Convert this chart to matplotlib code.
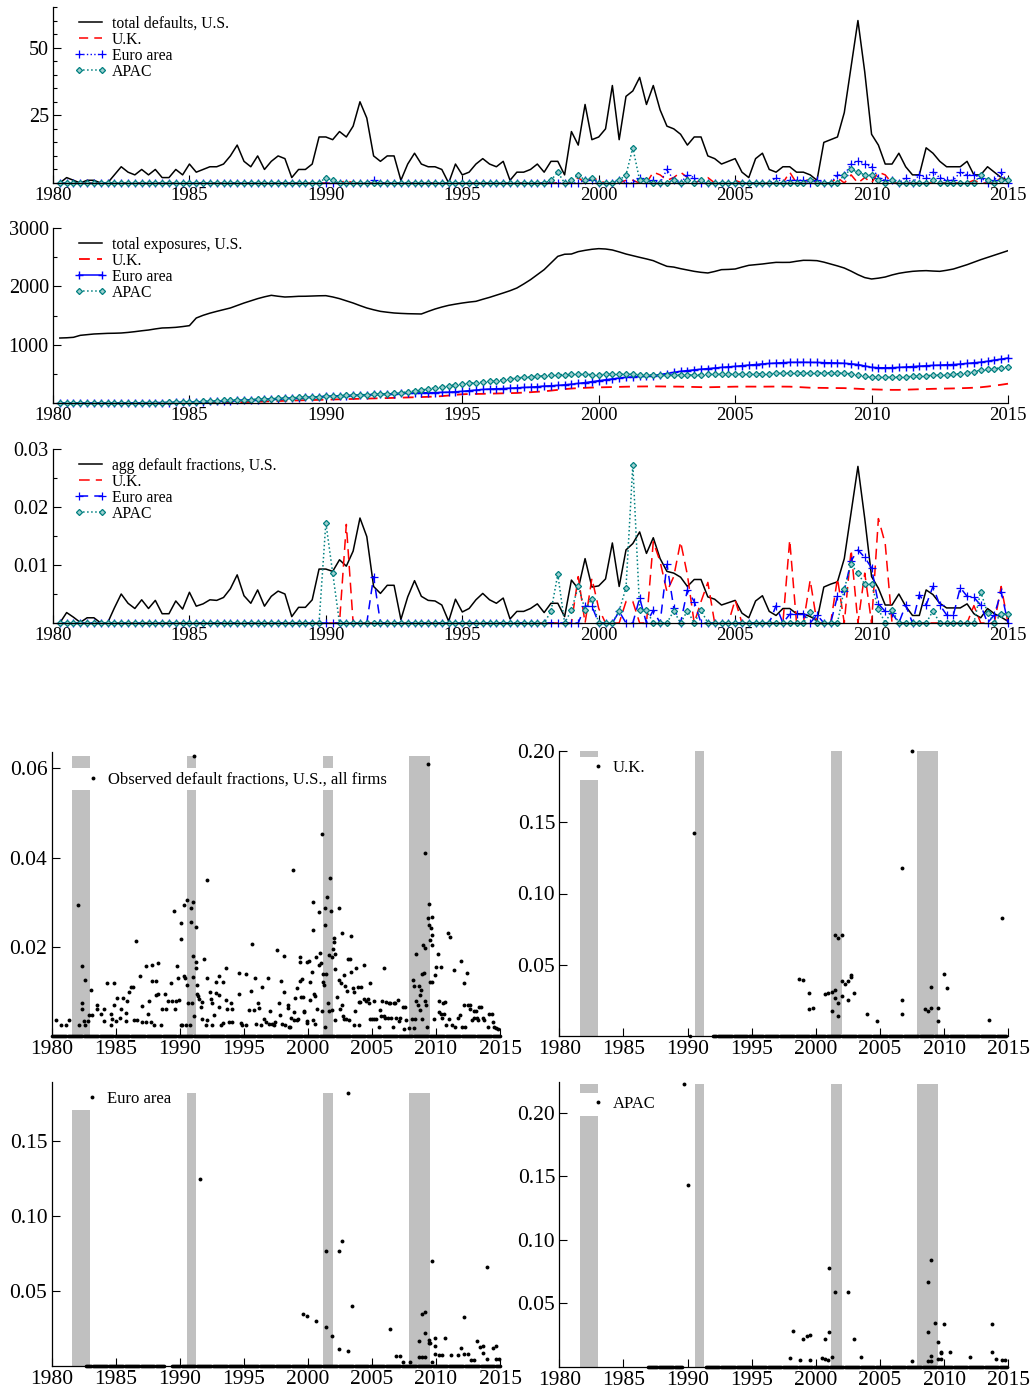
import numpy as np
import matplotlib
matplotlib.use("Agg")
import matplotlib.pyplot as plt
from matplotlib.patches import Rectangle
from matplotlib.ticker import MultipleLocator, FormatStrFormatter

plt.rcParams["font.family"] = ["Liberation Serif", "DejaVu Serif"]

TEAL = "#008080"
N_Q = 140  # 1980Q1 .. 2014Q4

# ---- quarterly aggregates ----
us_defaults = [0, 2, 1, 0, 1, 1, 0, 0, 3, 6, 4, 3, 5, 3, 5, 2, 2, 5, 3, 7,
               4, 5, 6, 6, 7, 10, 14, 8, 6, 10, 5, 8, 10, 9, 2, 5, 5, 7, 17, 17,
               16, 19, 17, 21, 30, 24, 10, 8, 10, 10, 1, 7, 11, 7, 6, 6, 5, 0, 7, 3,
               4, 7, 9, 7, 6, 8, 1, 4, 4, 5, 7, 4, 8, 8, 3, 19, 14, 29, 16, 17,
               20, 36, 16, 32, 34, 39, 29, 36, 27, 21, 20, 18, 14, 17, 17, 10, 9, 7, 8, 9,
               4, 2, 9, 11, 5, 4, 6, 6, 4, 4, 3, 1, 15, 16, 17, 26, 43, 60, 41, 18,
               14, 7, 7, 11, 6, 3, 3, 13, 11, 8, 6, 6, 6, 8, 3, 3, 6, 4, 2, 1]

uk_defaults = {"1990Q3": 1, "1999Q1": 2, "1999Q3": 2, "1999Q4": 1, "2000Q4": 1,
               "2001Q1": 1, "2001Q4": 4, "2002Q1": 3, "2002Q2": 1, "2002Q3": 2,
               "2002Q4": 4, "2003Q1": 2, "2003Q3": 1, "2003Q4": 2, "2004Q4": 1,
               "2006Q4": 4, "2007Q3": 2, "2008Q3": 2, "2009Q1": 3, "2009Q3": 2,
               "2010Q1": 4, "2010Q2": 3, "2013Q3": 1, "2014Q3": 2}

euro_defaults = {"1991Q3": 1, "1999Q2": 1, "1999Q3": 1, "2000Q3": 1, "2001Q2": 2,
                 "2001Q4": 1, "2002Q2": 5, "2002Q3": 1, "2003Q1": 3, "2003Q2": 2,
                 "2006Q2": 2, "2006Q4": 1, "2007Q1": 1, "2007Q2": 1, "2007Q4": 1,
                 "2008Q3": 3, "2008Q4": 3, "2009Q1": 7, "2009Q2": 8, "2009Q3": 7,
                 "2009Q4": 6, "2010Q1": 2, "2010Q2": 1, "2010Q3": 1, "2011Q1": 2,
                 "2011Q3": 3, "2011Q4": 2, "2012Q1": 4, "2012Q2": 2, "2012Q3": 1,
                 "2012Q4": 1, "2013Q1": 4, "2013Q2": 3, "2013Q3": 3, "2013Q4": 2,
                 "2014Q2": 1, "2014Q3": 4}

apac_defaults = {"1989Q4": 2, "1990Q1": 1, "1998Q1": 1, "1998Q2": 4, "1998Q4": 1,
                 "1999Q1": 3, "1999Q2": 1, "1999Q3": 2, "2000Q3": 1, "2000Q4": 3,
                 "2001Q1": 13, "2001Q2": 1, "2001Q3": 1, "2002Q3": 1, "2003Q1": 1,
                 "2003Q3": 1, "2007Q3": 1, "2008Q4": 3, "2009Q1": 5, "2009Q2": 4,
                 "2009Q3": 3, "2009Q4": 3, "2010Q1": 1, "2010Q3": 1, "2012Q1": 1,
                 "2013Q4": 3, "2014Q1": 1, "2014Q3": 1, "2014Q4": 1}

us_exposures = [1114, 1118, 1126, 1160, 1172, 1183, 1188, 1194, 1196, 1200,
                1210, 1223, 1238, 1251, 1270, 1286, 1290, 1297, 1310, 1326,
                1457, 1503, 1540, 1571, 1600, 1629, 1672, 1714, 1752, 1789,
                1820, 1846, 1830, 1817, 1822, 1829, 1830, 1834, 1838, 1840,
                1818, 1789, 1752, 1714, 1670, 1629, 1598, 1571, 1556, 1543,
                1536, 1531, 1528, 1526, 1570, 1611, 1645, 1674, 1695, 1714,
                1730, 1743, 1778, 1811, 1848, 1886, 1925, 1971, 2040, 2114,
                2200, 2286, 2400, 2514, 2550, 2554, 2595, 2617, 2635, 2646,
                2640, 2623, 2590, 2554, 2525, 2497, 2470, 2440, 2390, 2343,
                2330, 2303, 2280, 2257, 2240, 2229, 2255, 2286, 2290, 2297,
                2330, 2360, 2372, 2383, 2398, 2411, 2410, 2411, 2430, 2446,
                2445, 2440, 2415, 2383, 2350, 2314, 2260, 2200, 2150, 2126,
                2140, 2160, 2195, 2223, 2242, 2257, 2265, 2269, 2262, 2257,
                2275, 2297, 2335, 2371, 2415, 2457, 2495, 2531, 2570, 2611]

uk_exposures = [0, 0, 0, 0, 0, 0, 0, 0, 0, 0, 0, 0, 0, 0, 0, 0, 0, 0, 0, 0,
                0, 0, 2, 5, 7, 9, 12, 15, 18, 22, 26, 30, 34, 38, 42, 45, 48, 51, 54, 57,
                60, 63, 67, 70, 72, 75, 78, 80, 84, 88, 92, 95, 98, 102, 106, 110,
                118, 128, 140, 150, 154, 155, 157, 160, 162, 165, 168, 172, 178, 185,
                192, 200, 212, 225, 238, 248, 255, 260, 265, 268, 272, 275, 278, 280,
                282, 283, 284, 285, 284, 282, 281, 280, 277, 274, 272, 270, 272, 275,
                278, 280, 281, 281, 280, 280, 281, 282, 281, 280, 275, 268, 262, 260,
                258, 257, 256, 255, 250, 244, 238, 234, 230, 227, 225, 225, 228, 232,
                236, 240, 243, 245, 247, 250, 253, 257, 262, 270, 282, 297, 313, 331]

euro_exposures = [0, 0, 0, 0, 0, 0, 0, 0, 1, 1, 2, 2, 3, 4, 5, 6, 8, 10, 12, 15,
                  18, 22, 26, 30, 35, 40, 45, 50, 55, 60, 65, 70, 75, 80, 85, 90,
                  96, 102, 108, 114, 120, 124, 128, 132, 137, 141, 146, 150,
                  155, 160, 165, 170, 172, 174, 176, 178, 182, 186, 192, 200,
                  212, 222, 232, 240, 244, 248, 254, 260, 266, 272, 280, 290,
                  296, 302, 312, 322, 336, 350, 366, 383, 398, 412, 428, 440,
                  448, 456, 463, 470, 488, 505, 525, 543, 556, 568, 580, 590,
                  600, 610, 620, 628, 640, 650, 660, 670, 678, 685, 692, 697,
                  698, 698, 697, 695, 692, 690, 686, 680, 672, 660, 635, 611,
                  605, 604, 606, 610, 618, 625, 632, 640, 645, 650, 655, 660,
                  668, 678, 690, 700, 715, 735, 752, 771]

apac_exposures = [0, 0, 0, 0, 0, 0, 0, 0, 1, 1, 2, 3, 4, 5, 6, 8, 10, 13, 16, 20,
                  24, 29, 34, 40, 44, 47, 51, 55, 60, 65, 70, 75, 80, 85, 90, 95,
                  100, 105, 110, 115, 120, 125, 130, 135, 140, 145, 150, 155,
                  162, 170, 180, 190, 205, 222, 240, 260, 278, 295, 310, 326,
                  338, 348, 358, 370, 385, 400, 415, 430, 440, 450, 460, 470,
                  478, 486, 488, 490, 490, 489, 488, 488, 490, 492, 493, 495,
                  490, 486, 483, 480, 478, 478, 479, 480, 482, 484, 487, 490,
                  491, 492, 494, 495, 496, 497, 499, 500, 503, 506, 510, 514,
                  516, 518, 519, 520, 520, 518, 515, 510, 500, 480, 460, 440,
                  438, 440, 442, 445, 450, 456, 463, 470, 474, 478, 484, 490,
                  505, 522, 540, 560, 575, 590, 605, 617]

us_fraction = [0, 0.0018, 0.0010, 0.0001, 0.0009, 0.0009, 0, 0, 0.0026, 0.0050,
               0.0034, 0.0025, 0.0040, 0.0025, 0.0039, 0.0016, 0.0016, 0.0038, 0.0024, 0.0053,
               0.0029, 0.0033, 0.0040, 0.0039, 0.0044, 0.0059, 0.0083, 0.0047, 0.0034, 0.0057,
               0.0029, 0.0046, 0.0055, 0.0050, 0.0011, 0.0027, 0.0027, 0.0040, 0.0093, 0.0093,
               0.0089, 0.0109, 0.0098, 0.0124, 0.0181, 0.0149, 0.0063, 0.0051, 0.0065, 0.0065,
               0.0006, 0.0045, 0.0073, 0.0046, 0.0039, 0.0038, 0.0031, 0.0003, 0.0041, 0.0019,
               0.0025, 0.0040, 0.0051, 0.0040, 0.0034, 0.0043, 0.0007, 0.0020, 0.0020, 0.0025,
               0.0033, 0.0018, 0.0034, 0.0034, 0.0011, 0.0074, 0.0059, 0.0111, 0.0062, 0.0064,
               0.0076, 0.0138, 0.0063, 0.0126, 0.0137, 0.0157, 0.0120, 0.0147, 0.0111, 0.0089,
               0.0086, 0.0079, 0.0063, 0.0075, 0.0075, 0.0045, 0.0041, 0.0031, 0.0035, 0.0039,
               0.0017, 0.0009, 0.0038, 0.0047, 0.0020, 0.0013, 0.0025, 0.0025, 0.0016, 0.0016,
               0.0011, 0.0005, 0.0062, 0.0067, 0.0071, 0.0111, 0.0191, 0.0270, 0.0180, 0.0080,
               0.0060, 0.0031, 0.0031, 0.0050, 0.0029, 0.0013, 0.0013, 0.0057, 0.0049, 0.0034,
               0.0026, 0.0026, 0.0026, 0.0033, 0.0016, 0.0009, 0.0025, 0.0016, 0.0010, 0.0003]

uk_fraction = {"1990Q3": 0.0170, "1999Q1": 0.0080, "1999Q3": 0.0077, "1999Q4": 0.0025,
               "2000Q4": 0.0037, "2001Q1": 0.0037, "2001Q4": 0.0140, "2002Q1": 0.0106,
               "2002Q2": 0.0054, "2002Q3": 0.0080, "2002Q4": 0.0140, "2003Q1": 0.0083,
               "2003Q3": 0.0037, "2003Q4": 0.0070, "2004Q4": 0.0040, "2006Q4": 0.0143,
               "2007Q3": 0.0074, "2008Q3": 0.0077, "2009Q1": 0.0126, "2009Q3": 0.0086,
               "2010Q1": 0.0180, "2010Q2": 0.0137, "2013Q3": 0.0030, "2014Q3": 0.0063}

euro_fraction = {"1991Q3": 0.0080, "1999Q2": 0.0029, "1999Q3": 0.0029, "2000Q3": 0.0020,
                 "2001Q2": 0.0043, "2001Q4": 0.0022, "2002Q2": 0.0101, "2002Q3": 0.0026,
                 "2003Q1": 0.0057, "2003Q2": 0.0037, "2006Q2": 0.0030, "2006Q4": 0.0015,
                 "2007Q1": 0.0015, "2007Q2": 0.0015, "2007Q4": 0.0014, "2008Q3": 0.0046,
                 "2008Q4": 0.0056, "2009Q1": 0.0107, "2009Q2": 0.0126, "2009Q3": 0.0113,
                 "2009Q4": 0.0095, "2010Q1": 0.0033, "2010Q2": 0.0020, "2010Q3": 0.0017,
                 "2011Q1": 0.0031, "2011Q3": 0.0049, "2011Q4": 0.0031, "2012Q1": 0.0063,
                 "2012Q2": 0.0031, "2012Q3": 0.0014, "2012Q4": 0.0014, "2013Q1": 0.0061,
                 "2013Q2": 0.0046, "2013Q3": 0.0044, "2013Q4": 0.0031, "2014Q2": 0.0014,
                 "2014Q3": 0.0054}

apac_fraction = {"1989Q4": 0.0173, "1990Q1": 0.0087, "1998Q1": 0.0020, "1998Q2": 0.0084,
                 "1998Q4": 0.0022, "1999Q1": 0.0063, "1999Q2": 0.0023, "1999Q3": 0.0042,
                 "2000Q3": 0.0021, "2000Q4": 0.0061, "2001Q1": 0.0273, "2001Q2": 0.0023,
                 "2001Q3": 0.0022, "2002Q3": 0.0021, "2003Q1": 0.0021, "2003Q3": 0.0022,
                 "2007Q3": 0.0019, "2008Q4": 0.0059, "2009Q1": 0.0101, "2009Q2": 0.0086,
                 "2009Q3": 0.0067, "2009Q4": 0.0067, "2010Q1": 0.0024, "2010Q3": 0.0023,
                 "2012Q1": 0.0021, "2013Q4": 0.0054, "2014Q1": 0.0017, "2014Q3": 0.0016,
                 "2014Q4": 0.0016}

# ---- NBER recessions (decimal years) ----
rec_start = [1981.6, 1990.6, 2001.2, 2007.9]
rec_end = [1983.0, 1991.3, 2002.0, 2009.5]

# ---- observed default fractions: (decimal year, fraction), zero months as spans ----
us_obs = [
    (1980.34, 0.0035), (1980.73, 0.0025), (1981.12, 0.0025), (1981.38, 0.0035),
    (1982.10, 0.0294), (1982.16, 0.0024), (1982.36, 0.0156), (1982.36, 0.0073),
    (1982.40, 0.0061), (1982.62, 0.0125), (1982.55, 0.0034), (1982.81, 0.0034),
    (1982.62, 0.0024), (1983.12, 0.0103), (1982.94, 0.0048), (1983.19, 0.0048),
    (1983.58, 0.0061), (1983.58, 0.0070), (1983.84, 0.0049), (1984.10, 0.0061),
    (1984.10, 0.0034), (1984.36, 0.0119), (1984.62, 0.0049), (1984.62, 0.0024),
    (1984.75, 0.0039), (1984.88, 0.0119), (1984.88, 0.0070), (1985.01, 0.0033),
    (1985.14, 0.0086), (1985.32, 0.0040), (1985.40, 0.0061), (1985.58, 0.0086),
    (1985.79, 0.0052), (1985.79, 0.0034), (1985.92, 0.0078), (1986.05, 0.0099),
    (1986.18, 0.0110), (1986.36, 0.0110), (1986.57, 0.0213), (1986.44, 0.0037),
    (1986.70, 0.0035), (1986.88, 0.0134), (1987.09, 0.0067), (1987.09, 0.0031),
    (1987.35, 0.0157), (1987.35, 0.0031), (1987.56, 0.0049), (1987.61, 0.0078),
    (1987.74, 0.0031), (1987.87, 0.0159), (1987.87, 0.0124), (1988.00, 0.0025),
    (1988.13, 0.0124), (1988.13, 0.0091), (1988.34, 0.0163), (1988.34, 0.0095),
    (1988.52, 0.0025), (1988.65, 0.0060), (1988.86, 0.0095), (1988.91, 0.0061),
    (1989.12, 0.0078), (1989.30, 0.0119), (1989.38, 0.0078), (1989.56, 0.0280),
    (1989.64, 0.0061), (1989.69, 0.0078), (1989.82, 0.0156), (1989.90, 0.0129),
    (1989.95, 0.0080), (1990.08, 0.0254), (1990.08, 0.0217), (1990.08, 0.0024),
    (1990.21, 0.0025), (1990.34, 0.0294), (1990.34, 0.0134), (1990.42, 0.0129),
    (1990.47, 0.0025), (1990.60, 0.0306), (1990.60, 0.0114), (1990.68, 0.0074),
    (1990.78, 0.0025), (1990.86, 0.0286), (1990.86, 0.0256), (1990.94, 0.0074),
    (1991.06, 0.0300), (1991.06, 0.0179), (1991.06, 0.0133), (1991.12, 0.0629),
    (1991.12, 0.0045), (1991.25, 0.0153), (1991.30, 0.0245), (1991.30, 0.0166),
    (1991.38, 0.0114), (1991.38, 0.0095), (1991.45, 0.0090), (1991.51, 0.0084),
    (1991.64, 0.0065), (1991.71, 0.0076), (1991.77, 0.0039), (1991.90, 0.0172),
    (1992.03, 0.0024), (1992.16, 0.0351), (1992.16, 0.0129), (1992.16, 0.0037),
    (1992.34, 0.0099), (1992.42, 0.0084), (1992.49, 0.0073), (1992.55, 0.0025),
    (1992.68, 0.0046), (1992.81, 0.0120), (1992.86, 0.0097), (1993.06, 0.0135),
    (1993.06, 0.0091), (1993.06, 0.0065), (1993.19, 0.0025), (1993.38, 0.0120),
    (1993.38, 0.0030), (1993.58, 0.0153), (1993.58, 0.0080), (1993.71, 0.0061),
    (1993.84, 0.0031), (1993.97, 0.0073), (1994.05, 0.0061), (1994.10, 0.0031),
    (1994.62, 0.0142), (1994.62, 0.0095), (1994.75, 0.0030), (1994.88, 0.0025),
    (1995.14, 0.0138), (1995.14, 0.0025), (1995.45, 0.0058), (1995.53, 0.0100),
    (1995.66, 0.0207), (1995.79, 0.0058), (1995.87, 0.0129), (1995.97, 0.0028),
    (1996.13, 0.0074), (1996.18, 0.0063), (1996.31, 0.0025), (1996.44, 0.0110),
    (1996.57, 0.0039), (1996.75, 0.0031), (1996.91, 0.0129), (1997.01, 0.0028),
    (1997.09, 0.0055), (1997.22, 0.0028), (1997.35, 0.0024), (1997.48, 0.0031),
    (1997.61, 0.0192), (1997.74, 0.0073), (1997.87, 0.0048), (1997.92, 0.0123),
    (1998.00, 0.0028), (1998.13, 0.0179), (1998.13, 0.0099), (1998.26, 0.0024),
    (1998.44, 0.0070), (1998.44, 0.0063), (1998.52, 0.0020), (1998.65, 0.0020),
    (1998.70, 0.0040), (1998.86, 0.0372), (1998.91, 0.0054), (1998.91, 0.0035),
    (1999.04, 0.0086), (1999.12, 0.0108), (1999.17, 0.0035), (1999.22, 0.0039),
    (1999.38, 0.0177), (1999.38, 0.0165), (1999.43, 0.0123), (1999.48, 0.0088),
    (1999.56, 0.0127), (1999.64, 0.0088), (1999.69, 0.0055), (1999.74, 0.0054),
    (1999.90, 0.0165), (1999.90, 0.0029), (1999.95, 0.0033), (2000.08, 0.0168),
    (2000.16, 0.0120), (2000.21, 0.0081), (2000.34, 0.0144), (2000.42, 0.0301),
    (2000.42, 0.0237), (2000.42, 0.0037), (2000.47, 0.0095), (2000.60, 0.0090),
    (2000.60, 0.0028), (2000.68, 0.0177), (2000.73, 0.0060), (2000.86, 0.0160),
    (2000.91, 0.0279), (2000.94, 0.0186), (2001.04, 0.0163), (2001.12, 0.0452),
    (2001.12, 0.0055), (2001.19, 0.0140), (2001.19, 0.0120), (2001.25, 0.0114),
    (2001.32, 0.0020), (2001.38, 0.0288), (2001.38, 0.0249), (2001.45, 0.0140),
    (2001.51, 0.0312), (2001.56, 0.0073), (2001.64, 0.0181), (2001.64, 0.0055),
    (2001.77, 0.0355), (2001.82, 0.0280), (2001.90, 0.0178), (2001.90, 0.0058),
    (2001.97, 0.0195), (2002.03, 0.0219), (2002.08, 0.0211), (2002.16, 0.0183),
    (2002.16, 0.0150), (2002.16, 0.0037), (2002.29, 0.0088), (2002.42, 0.0286),
    (2002.42, 0.0125), (2002.49, 0.0061), (2002.60, 0.0118), (2002.68, 0.0230),
    (2002.68, 0.0070), (2002.75, 0.0045), (2002.81, 0.0039), (2002.86, 0.0136),
    (2002.94, 0.0112), (2003.01, 0.0039), (2003.06, 0.0100), (2003.12, 0.0172),
    (2003.19, 0.0035), (2003.27, 0.0172), (2003.38, 0.0225), (2003.40, 0.0144),
    (2003.53, 0.0108), (2003.58, 0.0025), (2003.64, 0.0099), (2003.71, 0.0055),
    (2003.79, 0.0153), (2003.90, 0.0110), (2003.97, 0.0076), (2003.97, 0.0025),
    (2004.10, 0.0076), (2004.16, 0.0110), (2004.36, 0.0084), (2004.42, 0.0160),
    (2004.57, 0.0078), (2004.68, 0.0084), (2004.75, 0.0073), (2004.83, 0.0039),
    (2004.88, 0.0118), (2005.01, 0.0039), (2005.14, 0.0078), (2005.19, 0.0039),
    (2005.35, 0.0039), (2005.53, 0.0020), (2005.66, 0.0058), (2005.71, 0.0045),
    (2005.79, 0.0078), (2005.92, 0.0153), (2005.97, 0.0045), (2006.05, 0.0040),
    (2006.13, 0.0076), (2006.23, 0.0040), (2006.31, 0.0075), (2006.44, 0.0075),
    (2006.49, 0.0040), (2006.65, 0.0020), (2006.70, 0.0075), (2006.83, 0.0075),
    (2006.91, 0.0040), (2007.01, 0.0080), (2007.09, 0.0033), (2007.22, 0.0040),
    (2007.43, 0.0065), (2007.48, 0.0016), (2007.61, 0.0065), (2007.69, 0.0035),
    (2007.87, 0.0018), (2008.13, 0.0039), (2008.21, 0.0125), (2008.26, 0.0112),
    (2008.31, 0.0018), (2008.39, 0.0039), (2008.42, 0.0183), (2008.47, 0.0078),
    (2008.57, 0.0069), (2008.65, 0.0112), (2008.73, 0.0093), (2008.73, 0.0058),
    (2008.83, 0.0103), (2008.91, 0.0140), (2008.91, 0.0039), (2008.99, 0.0205),
    (2009.09, 0.0142), (2009.17, 0.0410), (2009.17, 0.0198), (2009.17, 0.0078),
    (2009.25, 0.0069), (2009.30, 0.0020), (2009.35, 0.0265), (2009.38, 0.0610),
    (2009.43, 0.0297), (2009.43, 0.0249), (2009.51, 0.0215), (2009.51, 0.0121),
    (2009.61, 0.0243), (2009.69, 0.0267), (2009.69, 0.0226), (2009.69, 0.0204),
    (2009.69, 0.0120), (2009.82, 0.0039), (2009.95, 0.0136), (2010.00, 0.0155),
    (2010.13, 0.0185), (2010.21, 0.0078), (2010.26, 0.0054), (2010.39, 0.0050),
    (2010.39, 0.0155), (2010.47, 0.0040), (2010.55, 0.0075), (2010.60, 0.0050),
    (2010.73, 0.0076), (2010.81, 0.0024), (2010.91, 0.0232), (2010.99, 0.0039),
    (2011.12, 0.0222), (2011.25, 0.0025), (2011.38, 0.0148), (2011.51, 0.0020),
    (2011.69, 0.0040), (2011.84, 0.0046), (2011.95, 0.0168), (2012.03, 0.0020),
    (2012.16, 0.0118), (2012.21, 0.0070), (2012.29, 0.0020), (2012.42, 0.0142),
    (2012.47, 0.0070), (2012.62, 0.0070), (2012.68, 0.0061), (2012.81, 0.0035),
    (2012.94, 0.0055), (2012.99, 0.0040), (2013.14, 0.0055), (2013.19, 0.0040),
    (2013.32, 0.0035), (2013.40, 0.0065), (2013.51, 0.0065), (2013.66, 0.0040),
    (2013.77, 0.0035), (2014.10, 0.0020), (2014.18, 0.0050), (2014.36, 0.0050),
    (2014.44, 0.0031), (2014.55, 0.0020), (2014.70, 0.0018), (2014.88, 0.0016),
]
us_zero_spans = [(1980.0, 2015.0)]

uk_obs = [
    (1990.49, 0.1426), (1998.70, 0.0398), (1998.96, 0.0391), (1999.48, 0.0302),
    (1999.48, 0.0190), (1999.74, 0.0197), (2000.70, 0.0293), (2000.96, 0.0302),
    (2001.22, 0.0309), (2001.22, 0.0176), (2001.48, 0.0321), (2001.48, 0.0712),
    (2001.48, 0.0269), (2001.74, 0.0689), (2001.74, 0.0232), (2001.74, 0.0143),
    (2002.00, 0.0712), (2002.00, 0.0384), (2002.00, 0.0283), (2002.26, 0.0368),
    (2002.47, 0.0384), (2002.47, 0.0251), (2002.73, 0.0426), (2002.73, 0.0415),
    (2002.99, 0.0304), (2004.00, 0.0157), (2004.73, 0.0103), (2006.75, 0.1176),
    (2006.75, 0.0255), (2006.75, 0.0157), (2007.51, 0.2000), (2008.49, 0.0190),
    (2008.75, 0.0176), (2009.01, 0.0344), (2009.01, 0.0197), (2009.51, 0.0197),
    (2009.51, 0.0103), (2010.00, 0.0433), (2010.26, 0.0340), (2013.51, 0.0110),
    (2014.52, 0.0831),
]
uk_zero_spans = [(1990.17, 1990.2), (1992.0, 2014.9)]

euro_obs = [
    (1991.58, 0.1247), (1999.64, 0.0344), (1999.90, 0.0333), (2000.68, 0.0300),
    (2001.43, 0.0767), (2001.43, 0.0260), (2001.90, 0.0198), (2002.42, 0.0767),
    (2002.42, 0.0116), (2002.68, 0.0833), (2003.17, 0.1818), (2003.17, 0.0102),
    (2003.43, 0.0400), (2006.44, 0.0247), (2006.91, 0.0069), (2007.17, 0.0069),
    (2007.43, 0.0029), (2007.95, 0.0029), (2008.68, 0.0169), (2008.68, 0.0058),
    (2008.91, 0.0344), (2008.91, 0.0058), (2009.17, 0.0358), (2009.17, 0.0222),
    (2009.17, 0.0058), (2009.43, 0.0173), (2009.43, 0.0153), (2009.56, 0.0156),
    (2009.69, 0.0700), (2009.69, 0.0029), (2009.95, 0.0189), (2009.95, 0.0133),
    (2009.95, 0.0078), (2010.21, 0.0073), (2010.47, 0.0073), (2010.68, 0.0189),
    (2011.17, 0.0073), (2011.69, 0.0073), (2011.95, 0.0122), (2012.21, 0.0324),
    (2012.21, 0.0078), (2012.47, 0.0078), (2012.70, 0.0040), (2012.96, 0.0040),
    (2013.19, 0.0167), (2013.45, 0.0129), (2013.71, 0.0136), (2013.71, 0.0084),
    (2013.97, 0.0662), (2013.97, 0.0044), (2014.47, 0.0122), (2014.70, 0.0136),
    (2014.70, 0.0044), (2014.96, 0.0044),
]
euro_zero_spans = [(1982.7, 1988.8), (1989.4, 2015.0)]

apac_obs = [
    (1989.71, 0.2226), (1990.00, 0.1432), (1997.97, 0.0074), (1998.23, 0.0284),
    (1998.75, 0.0055), (1999.01, 0.0218), (1999.27, 0.0245), (1999.53, 0.0250),
    (1999.53, 0.0055), (2000.49, 0.0074), (2000.75, 0.0218), (2000.75, 0.0063),
    (2000.96, 0.0055), (2001.01, 0.0779), (2001.01, 0.0274), (2001.22, 0.0082),
    (2001.48, 0.0592), (2002.49, 0.0592), (2003.01, 0.0221), (2003.51, 0.0079),
    (2007.51, 0.0050), (2008.75, 0.0671), (2008.75, 0.0274), (2008.75, 0.0050),
    (2009.01, 0.0840), (2009.01, 0.0087), (2009.01, 0.0050), (2009.25, 0.0345),
    (2009.51, 0.0200), (2009.51, 0.0061), (2009.77, 0.0121), (2009.77, 0.0108),
    (2009.77, 0.0061), (2010.00, 0.0337), (2010.49, 0.0121), (2012.00, 0.0079),
    (2013.74, 0.0337), (2013.74, 0.0121), (2014.03, 0.0061), (2014.47, 0.0055),
    (2014.75, 0.0055),
]
apac_zero_spans = [(1986.9, 1989.6), (1991.4, 2014.9)]


def expand(series):
    out = np.zeros(N_Q)
    for key, val in series.items():
        out[(int(key[:4]) - 1980) * 4 + int(key[-1]) - 1] = val
    return out


x_q = 1980.25 + 0.25 * np.arange(N_Q)

fig = plt.figure(figsize=(10.33, 13.92), dpi=100)
W, H = 1033.0, 1392.0


def add_ax(left, top, right, bottom):
    return fig.add_axes([left / W, 1 - bottom / H, (right - left) / W, (bottom - top) / H])


def style(ax, xsize, ysize):
    for s in ("top", "right"):
        ax.spines[s].set_visible(False)
    for s in ("left", "bottom"):
        ax.spines[s].set_linewidth(0.9)
    ax.set_xlim(1980, 2015)
    ax.set_xticks(range(1980, 2016, 5))
    ax.tick_params(which="major", direction="in", length=6, width=0.8)
    ax.tick_params(which="minor", direction="in", length=3, width=0.8)
    ax.tick_params(axis="x", labelsize=xsize, pad=3)
    ax.tick_params(axis="y", labelsize=ysize, pad=3)


def top_legend(ax):
    ax.legend(loc="upper left", bbox_to_anchor=(0.022, 0.95), frameon=False,
              fontsize=11.3, numpoints=2, handlelength=2.1, handletextpad=0.3,
              labelspacing=0.0, borderpad=0, borderaxespad=0)


diamond = dict(marker="D", ms=3.1, mew=0.9, mfc="#9fcfcf", mec=TEAL)

# ---- panel 1: defaults ----
ax1 = add_ax(53, 7, 1008, 183)
ax1.plot(x_q, us_defaults, color="k", lw=1.1, label="total defaults, U.S.")
ax1.plot(x_q, expand(uk_defaults), color="r", lw=1.1, ls=(0, (6, 4)), label="U.K.", clip_on=False)
ax1.plot(x_q, expand(euro_defaults), color="b", lw=1.0, ls=":", marker="+", ms=5.5, mew=0.9,
         label="Euro area", clip_on=False)
ax1.plot(x_q, expand(apac_defaults), color=TEAL, lw=1.1, ls=":", label="APAC", clip_on=False,
         **diamond)
style(ax1, 13.5, 14.5)
ax1.set_ylim(0, 65)
ax1.set_yticks([25, 50])
ax1.yaxis.set_minor_locator(MultipleLocator(5))
top_legend(ax1)

# ---- panel 2: exposures ----
ax2 = add_ax(53, 228, 1008, 403)
ax2.plot(x_q, us_exposures, color="k", lw=1.1, label="total exposures, U.S.")
ax2.plot(x_q, uk_exposures, color="r", lw=1.3, ls=(0, (6, 4)), label="U.K.", clip_on=False)
ax2.plot(x_q, euro_exposures, color="b", lw=1.1, marker="+", ms=6, mew=1.0,
         label="Euro area", clip_on=False)
ax2.plot(x_q, apac_exposures, color=TEAL, lw=1.1, ls=":", label="APAC", clip_on=False,
         **diamond)
style(ax2, 13.5, 14.5)
ax2.set_ylim(0, 3000)
ax2.set_yticks([1000, 2000, 3000])
ax2.yaxis.set_minor_locator(MultipleLocator(500))
top_legend(ax2)

# ---- panel 3: aggregate default fractions ----
ax3 = add_ax(53, 449, 1008, 623)
ax3.plot(x_q, us_fraction, color="k", lw=1.1, label="agg default fractions, U.S.")
ax3.plot(x_q, expand(uk_fraction), color="r", lw=1.1, ls=(0, (7, 4)), label="U.K.", clip_on=False)
ax3.plot(x_q, expand(euro_fraction), color="b", lw=1.1, ls=(0, (6, 4)), marker="+", ms=5.5,
         mew=0.9, label="Euro area", clip_on=False)
ax3.plot(x_q, expand(apac_fraction), color=TEAL, lw=1.1, ls=":", label="APAC", clip_on=False,
         **diamond)
style(ax3, 13.5, 14.5)
ax3.set_ylim(0, 0.03)
ax3.set_yticks([0.01, 0.02, 0.03])
ax3.yaxis.set_major_formatter(FormatStrFormatter("%.2f"))
ax3.yaxis.set_minor_locator(MultipleLocator(0.005))
top_legend(ax3)


# ---- scatter panels ----
def scatter_panel(box, obs, zero_spans, label, ylim, yticks, patch, legend_xy):
    ax = add_ax(*box)
    yrs = [o[0] for o in obs]
    vals = [o[1] for o in obs]
    top = max(vals)
    ax.bar(rec_start, top, width=np.array(rec_end) - np.array(rec_start), align="edge",
           color="#c0c0c0", edgecolor="none", zorder=1)
    # white legend background (covers the shading behind the key)
    x0, x1, y0, y1 = patch
    ax.add_patch(Rectangle((x0, y0), x1 - x0, y1 - y0, transform=ax.transAxes,
                           facecolor="white", edgecolor="none", zorder=2))
    zeros_x = np.concatenate([np.arange(a, b + 1e-9, 1 / 12) for a, b in zero_spans])
    ax.plot(zeros_x, np.zeros_like(zeros_x), ls="none", marker="o", ms=2.6, mew=0,
            color="k", zorder=3, clip_on=False)
    ax.plot(yrs, vals, ls="none", marker="o", ms=2.8, mew=0, color="k", zorder=3,
            clip_on=False, label=label)
    style(ax, 15.5, 15.5)
    ax.set_ylim(*ylim)
    ax.set_yticks(yticks)
    ax.yaxis.set_major_formatter(FormatStrFormatter("%.2f"))
    ax.legend(loc="center left", bbox_to_anchor=legend_xy, frameon=False,
              fontsize=12, numpoints=1, handlelength=0.6, handletextpad=0.6,
              borderpad=0, borderaxespad=0)
    return ax


scatter_panel((51.5, 752, 500, 1036), us_obs, us_zero_spans,
              "Observed default fractions, U.S., all firms", (0, 0.0637),
              [0.02, 0.04, 0.06], (0.03, 0.766, 0.866, 0.944), (0.081, 0.901))
scatter_panel((559.3, 751, 1008.3, 1036), uk_obs, uk_zero_spans, "U.K.", (0, 0.2),
              [0.05, 0.10, 0.15, 0.20], (0.028, 0.213, 0.898, 0.979), (0.075, 0.940))
scatter_panel((51.5, 1082, 500, 1366), euro_obs, euro_zero_spans, "Euro area", (0, 0.189),
              [0.05, 0.10, 0.15], (0.03, 0.282, 0.901, 0.982), (0.079, 0.940))
scatter_panel((559.3, 1082, 1008.3, 1367), apac_obs, apac_zero_spans, "APAC", (0, 0.224),
              [0.05, 0.10, 0.15, 0.20], (0.028, 0.236, 0.881, 0.961), (0.075, 0.923))

fig.savefig("out.png", dpi=100)
